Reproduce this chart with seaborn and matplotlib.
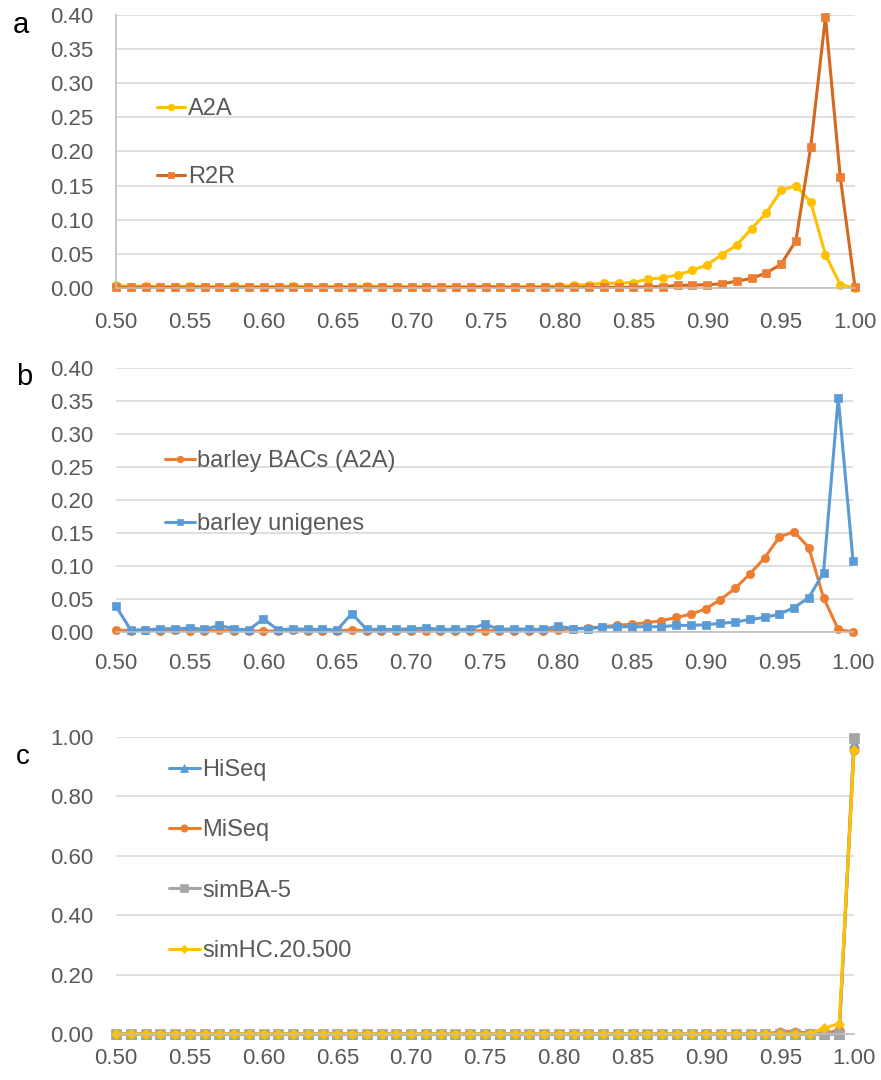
import numpy as np
import pandas as pd
import matplotlib
matplotlib.use('Agg')
import matplotlib.pyplot as plt
import seaborn as sns

# x categories (identity values), shared by the three panels
x = [0.50, 0.51, 0.52, 0.53, 0.54, 0.55, 0.56, 0.57, 0.58, 0.59,
     0.60, 0.61, 0.62, 0.63, 0.64, 0.65, 0.66, 0.67, 0.68, 0.69,
     0.70, 0.71, 0.72, 0.73, 0.74, 0.75, 0.76, 0.77, 0.78, 0.79,
     0.80, 0.81, 0.82, 0.83, 0.84, 0.85, 0.86, 0.87, 0.88, 0.89,
     0.90, 0.91, 0.92, 0.93, 0.94, 0.95, 0.96, 0.97, 0.98, 0.99, 1.00]

# panel a
a2a = [0.004] + [0.002, 0.003, 0.002, 0.002, 0.003, 0.002, 0.002, 0.003, 0.002, 0.002,
                 0.002, 0.003, 0.002, 0.002, 0.002, 0.002, 0.003, 0.002, 0.002, 0.002,
                 0.002, 0.002, 0.002, 0.002, 0.002, 0.002, 0.002, 0.002, 0.002] + \
      [0.003, 0.004, 0.005, 0.007, 0.007, 0.008, 0.013, 0.015, 0.019, 0.026,
       0.034, 0.049, 0.063, 0.087, 0.110, 0.143, 0.150, 0.126, 0.049, 0.005, 0.000]
r2r = [0.001] * 25 + [0.002] + [0.001] * 10 + \
      [0.002, 0.002, 0.004, 0.004, 0.005, 0.006, 0.010, 0.014, 0.022, 0.035,
       0.069, 0.206, 0.397, 0.163, 0.001]

# panel b
bacs = [0.003] + [0.002, 0.003, 0.002, 0.003, 0.002, 0.002, 0.003, 0.002, 0.002, 0.001,
                  0.002, 0.003, 0.002, 0.002, 0.002, 0.003, 0.002, 0.002, 0.002, 0.002,
                  0.002, 0.002, 0.002, 0.002, 0.002, 0.002, 0.002, 0.002, 0.002, 0.003] + \
       [0.005, 0.006, 0.008, 0.010, 0.012, 0.014, 0.017, 0.022, 0.027, 0.035,
        0.049, 0.066, 0.088, 0.112, 0.144, 0.152, 0.128, 0.052, 0.004, 0.000]
unigenes = [0.039, 0.003, 0.003, 0.005, 0.005, 0.006, 0.004, 0.010, 0.005, 0.003,
            0.020, 0.003, 0.005, 0.004, 0.004, 0.003, 0.028, 0.004, 0.004, 0.004,
            0.005, 0.006, 0.004, 0.004, 0.004, 0.012, 0.004, 0.005, 0.004, 0.004,
            0.009, 0.005, 0.005, 0.007, 0.008, 0.008, 0.008, 0.008, 0.010, 0.010,
            0.011, 0.013, 0.015, 0.019, 0.022, 0.027, 0.037, 0.052, 0.090, 0.355, 0.108]

# panel c
hiseq = [0.0] * 50 + [0.980]
miseq = [0.0] * 45 + [0.008, 0.008, 0.003, 0.0, 0.015, 0.955]
simba5 = [0.0] * 50 + [0.995]
simhc = [0.0] * 48 + [0.020, 0.035, 0.955]

xticks = [0.50, 0.55, 0.60, 0.65, 0.70, 0.75, 0.80, 0.85, 0.90, 0.95, 1.00]

sns.set_style('white')
plt.rcParams['font.family'] = ['Liberation Sans', 'DejaVu Sans']

GRAY_TXT = '#595959'
GRID = '#D9D9D9'
AXIS = '#BFBFBF'

fig = plt.figure(figsize=(8.81, 10.8), dpi=100)
W, H = 881.0, 1080.0


def make_ax(left, right, top, bottom):
    return fig.add_axes([left / W, 1 - bottom / H, (right - left) / W, (bottom - top) / H])


ax_a = make_ax(116, 855, 15, 288)
ax_b = make_ax(116, 853, 368, 632)
ax_c = make_ax(116, 854, 737, 1034)


def style_ax(ax, ymax, ystep, xpad, left_spine=False):
    ax.set_xlim(0.50, 1.00)
    ax.set_ylim(0, ymax)
    ax.set_xticks(xticks)
    ax.set_xticklabels(['%.2f' % v for v in xticks])
    yt = np.round(np.arange(0, ymax + 1e-9, ystep), 2)
    ax.set_yticks(yt)
    ax.set_yticklabels(['%.2f' % v for v in yt])
    ax.yaxis.grid(True, color=GRID, linewidth=1.2)
    ax.xaxis.grid(False)
    ax.set_axisbelow(True)
    for s in ['top', 'right']:
        ax.spines[s].set_visible(False)
    ax.spines['bottom'].set_color(AXIS)
    ax.spines['bottom'].set_linewidth(1.2)
    if left_spine:
        ax.spines['left'].set_color(AXIS)
        ax.spines['left'].set_linewidth(1.2)
        ax.tick_params(axis='y', length=5, color=AXIS, width=1.2, pad=11)
    else:
        ax.spines['left'].set_visible(False)
        ax.tick_params(axis='y', length=0, pad=16)
    ax.tick_params(axis='x', length=0, pad=xpad)
    ax.tick_params(labelsize=16, labelcolor=GRAY_TXT)
    ax.set_xlabel('')
    ax.set_ylabel('')


def draw(ax, y, label, line_color, marker, ms, face=None):
    face = face or line_color
    sns.lineplot(x=x, y=y, ax=ax, label=label, color=line_color, linewidth=2.2,
                 marker=marker, markersize=ms, markerfacecolor=face,
                 markeredgecolor=face, markeredgewidth=0.5, clip_on=False)


def add_legend(ax, x0, yc, spacing, hl):
    ax.legend(loc='center left', bbox_to_anchor=(x0 / W, 1 - yc / H),
              bbox_transform=fig.transFigure, frameon=False, fontsize=17,
              handlelength=hl, handletextpad=0.1, labelspacing=spacing,
              borderpad=0, borderaxespad=0, labelcolor=GRAY_TXT, markerscale=0.8)


# panel a
draw(ax_a, a2a, 'A2A', '#FFC000', 'o', 6)
draw(ax_a, r2r, 'R2R', '#D2691E', 's', 5.5, face='#ED7D31')
style_ax(ax_a, 0.40, 0.05, 17, left_spine=True)
add_legend(ax_a, 157, 143, 1.95, 1.2)

# panel b
draw(ax_b, bacs, 'barley BACs (A2A)', '#ED7D31', 'o', 6)
draw(ax_b, unigenes, 'barley unigenes', '#5B9BD5', 's', 5.5)
style_ax(ax_b, 0.40, 0.05, 15)
add_legend(ax_b, 165, 492.5, 1.75, 1.25)

# panel c
draw(ax_c, hiseq, 'HiSeq', '#5B9BD5', '^', 7)
draw(ax_c, miseq, 'MiSeq', '#ED7D31', 'o', 6.5)
draw(ax_c, simba5, 'simBA-5', '#A5A5A5', 's', 7.5)
draw(ax_c, simhc, 'simHC.20.500', '#FFC000', 'D', 5)
style_ax(ax_c, 1.00, 0.20, 10)
add_legend(ax_c, 169, 860.5, 1.62, 1.3)

# panel letters
fig.text(21 / W, 1 - 25 / H, 'a', fontsize=21, ha='center', va='center', color='black')
fig.text(24 / W, 1 - 377 / H, 'b', fontsize=21, ha='center', va='center', color='black')
fig.text(23 / W, 1 - 757 / H, 'c', fontsize=20, ha='center', va='center', color='black')

fig.savefig('out.png', dpi=100)
